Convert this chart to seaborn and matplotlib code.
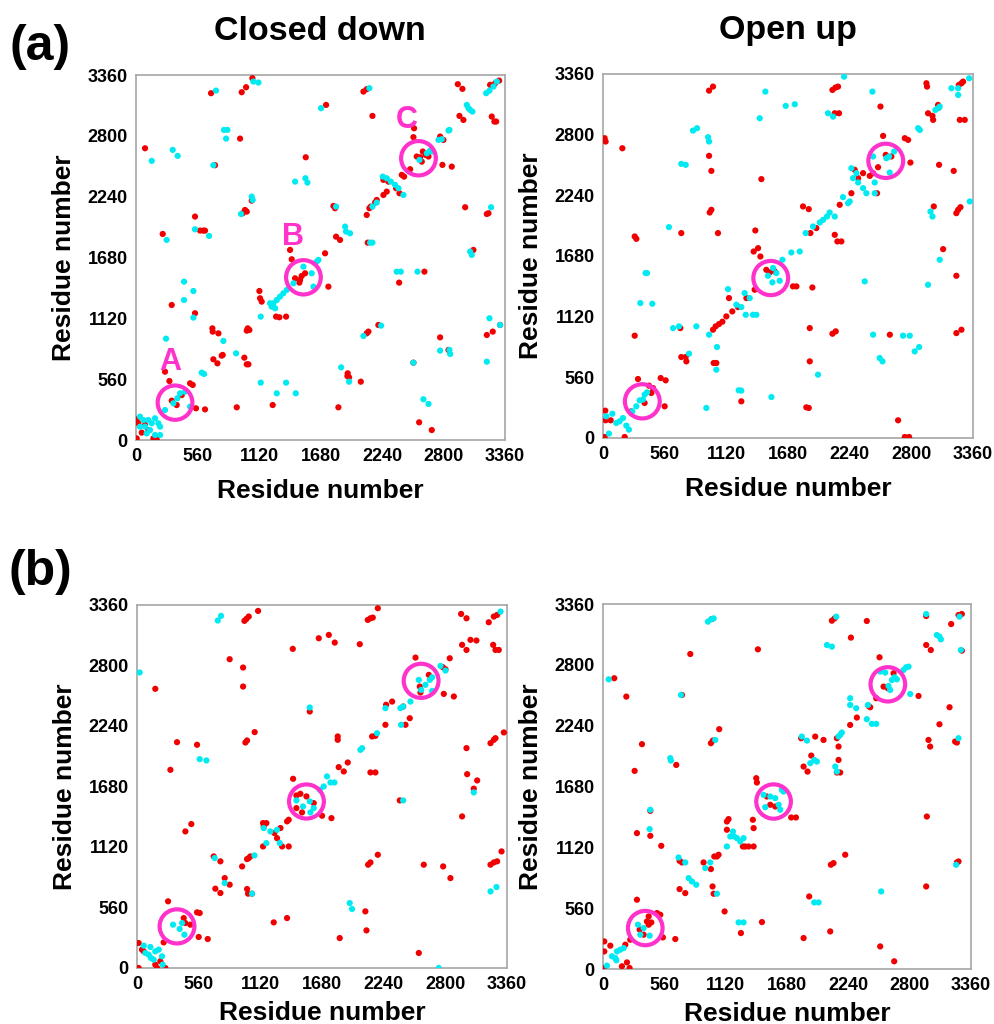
import matplotlib
matplotlib.use("Agg")
import matplotlib.pyplot as plt
from matplotlib.patches import Circle
import pandas as pd
import seaborn as sns

# residue-pair contacts (i, j)
TICKS = [0, 560, 1120, 1680, 2240, 2800, 3360]

# ---------------- (a) Closed down ----------------
a_closed_red = [
    (683, 3193), (962, 3202), (1002, 3248), (1059, 3331), (2070, 3208), (2100, 3230), (2152, 2984),
    (2929, 3276), (2971, 3233), (3238, 2978), (3262, 2932), (3278, 2932), (3223, 3270), (3269, 3285),
    (3305, 3309), (2944, 2984), (2980, 2947), (82, 2686), (947, 2775), (719, 2530), (1730, 3085),
    (1545, 2603), (2555, 2610), (2586, 2603), (2610, 2656), (2637, 2625), (2662, 2610), (2601, 2563),
    (2531, 2870), (2525, 2788), (2495, 2493), (2440, 2425), (2419, 2441), (2768, 2794), (2798, 2763),
    (2789, 2533), (2874, 2517), (2252, 2395), (2297, 2379), (2367, 2318), (2398, 2272), (2252, 2256),
    (2282, 2287), (2191, 2210), (2176, 2186), (2137, 2149), (2124, 2134), (2100, 2072), (1812, 2134),
    (1797, 2155), (1857, 1842), (1821, 1872), (2109, 1817), (1721, 1719), (1448, 1489), (1493, 1474),
    (1508, 1510), (1539, 1535), (1487, 1449), (1402, 1750), (1417, 1664), (1751, 1412), (1123, 1372),
    (1129, 1305), (1144, 1274), (1275, 1136), (1305, 1130), (1366, 1136), (1017, 1028), (1032, 1013),
    (1008, 1007), (1053, 2204), (992, 2118), (1008, 2103), (971, 2088), (537, 2057), (583, 1928),
    (613, 1928), (628, 1928), (243, 1897), (3071, 1750), (2996, 2143), (3208, 2088), (3193, 2081),
    (3314, 1059), (3193, 967), (3247, 998), (2768, 945), (2844, 829), (2525, 712), (2577, 163),
    (2692, 92), (2206, 1059), (2100, 982), (2115, 998), (1927, 614), (1924, 589), (1939, 577),
    (2046, 537), (1842, 301), (1244, 322), (917, 301), (986, 758), (1008, 697), (1023, 697),
    (704, 743), (741, 706), (780, 777), (789, 783), (695, 1028), (698, 998), (750, 982), (325, 1243),
    (537, 1167), (264, 629), (304, 543), (492, 522), (516, 507), (546, 292), (628, 282), (325, 362),
    (370, 322), (416, 414), (6, 190), (21, 154), (82, 138), (112, 92), (158, 15), (188, 6), (6, 15),
    (52, 68), (2395, 1449), (2625, 1550),
]
a_closed_cyan = [
    (728, 3217), (1068, 3300), (1114, 3291), (2124, 3239), (3187, 3193), (3217, 3217), (3253, 3254),
    (3284, 3300), (3011, 3085), (3041, 3039), (3062, 3024), (3026, 3055), (143, 2570), (334, 2671),
    (379, 2616), (801, 2855), (832, 2855), (820, 2775), (704, 2530), (1684, 3055), (1448, 2379),
    (1542, 2410), (1560, 2370), (2580, 2579), (2647, 2640), (2677, 2665), (2692, 2656), (2753, 2763),
    (2783, 2769), (2853, 2855), (2844, 2849), (2246, 2425), (2282, 2410), (2319, 2379), (2358, 2349),
    (2389, 2318), (2434, 2256), (2152, 2149), (2191, 2186), (1821, 2149), (1903, 1965), (1948, 1903),
    (1912, 1919), (2131, 1817), (2152, 1817), (1660, 1658), (1645, 1642), (1630, 1627), (1524, 1596),
    (1599, 1535), (1615, 1412), (1433, 1443), (1372, 1382), (1341, 1351), (1311, 1320), (1281, 1289),
    (1250, 1259), (1235, 1228), (1266, 1213), (1220, 1259), (1135, 1136), (1053, 2241), (1062, 2210),
    (956, 2081), (537, 1940), (665, 1879), (279, 1842), (2373, 1550), (2410, 1550), (2562, 1550),
    (3041, 1735), (3056, 1704), (3232, 2143), (3217, 1121), (3314, 1059), (3193, 721), (2768, 823),
    (2853, 829), (2859, 792), (2525, 712), (2616, 375), (2662, 332), (2231, 1053), (2070, 958),
    (1939, 537), (1867, 669), (1135, 528), (1281, 430), (1366, 528), (1454, 430), (911, 798),
    (795, 912), (437, 1458), (437, 1289), (522, 1372), (522, 1127), (273, 933), (619, 608), (598, 620),
    (340, 338), (376, 384), (401, 430), (446, 445), (264, 276), (492, 307), (36, 215), (67, 184),
    (112, 184), (143, 154), (173, 200), (203, 154), (219, 123), (127, 92), (173, 46), (97, 61),
    (36, 123), (82, 123), (219, 46),
]
a_closed_circles = [(355, 344), (1524, 1498), (2571, 2594)]
a_closed_letters = [("A", 310, 721), ("B", 1427, 1873), ("C", 2465, 2947)]

# ---------------- (a) Open up ----------------
a_open_red = [
    (15, 2767), (24, 2736), (176, 2674), (288, 1860), (303, 1838), (288, 944), (318, 544), (418, 483),
    (454, 461), (524, 553), (569, 532), (560, 292), (21, 252), (24, 163), (70, 163), (197, 9), (15, 9),
    (257, 246), (378, 323), (439, 415), (702, 1014), (711, 1891), (711, 747), (751, 747), (757, 707),
    (963, 3206), (999, 3243), (963, 2604), (984, 2465), (969, 2081), (984, 2106), (1044, 1891),
    (999, 999), (1023, 1030), (1053, 1051), (1084, 1073), (1005, 692), (1029, 692), (1120, 1122),
    (1174, 1168), (1226, 1208), (1144, 1291), (1256, 338), (1302, 1291), (1377, 1368), (1368, 1721),
    (1408, 1752), (1429, 1675), (1383, 1915), (1438, 2389), (1483, 1552), (1514, 1528), (1559, 1537),
    (1725, 1399), (1756, 1399), (1816, 2137), (1868, 2112), (1901, 1389), (1877, 1014), (1877, 707),
    (1846, 283), (1868, 277), (1883, 1891), (1937, 1937), (2104, 2997), (2143, 2997), (2083, 3212),
    (2110, 3234), (2134, 3243), (2104, 1875), (2128, 1814), (2164, 1814), (2149, 2152), (2083, 962),
    (2113, 984), (2255, 2259), (2285, 2475), (2316, 2398), (2361, 2444), (2422, 2419), (2452, 2444),
    (2488, 2259), (2519, 3059), (2543, 2788), (2604, 953), (2679, 163), (2740, 9), (2779, 9),
    (2567, 2613), (2618, 2598), (2497, 2499), (2740, 2767), (2770, 2751), (2791, 2542), (2936, 3274),
    (2942, 3243), (2951, 2997), (2991, 2973), (2997, 2936), (3042, 3074), (3048, 3049), (3051, 2521),
    (3003, 2137), (3088, 1743), (3208, 1497), (3184, 2465), (3208, 2075), (3224, 2106), (3245, 2130),
    (3208, 968), (3254, 999), (3239, 2936), (3284, 2936), (3230, 3258), (3254, 3274), (3269, 3289),
]
a_open_cyan = [
    (30, 200), (85, 224), (121, 138), (151, 154), (182, 184), (236, 77), (54, 40), (212, 114),
    (266, 246), (303, 292), (333, 347), (363, 354), (378, 400), (400, 421), (387, 1522), (400, 1522),
    (339, 1245), (448, 1239), (599, 1946), (636, 1014), (690, 1030), (781, 778), (817, 2837),
    (854, 2859), (711, 2530), (751, 2521), (848, 1030), (938, 277), (954, 2776), (963, 2736),
    (963, 953), (1035, 839), (1029, 630), (1135, 1374), (1211, 1230), (1256, 1208), (1296, 1137),
    (1286, 1337), (1332, 1291), (1362, 1137), (1392, 1137), (1232, 440), (1256, 437), (1423, 2951),
    (1474, 3197), (1529, 378), (2189, 3335), (1659, 3065), (1741, 3080), (1629, 1645), (1710, 1712),
    (1786, 1721), (1498, 1497), (1544, 1568), (1574, 1522), (1604, 1451), (1538, 1436), (1840, 1891),
    (1907, 1952), (1968, 1989), (1998, 2013), (2034, 2044), (2058, 2081), (2104, 2044), (2043, 2997),
    (2089, 2966), (2179, 2223), (2225, 2167), (2240, 2183), (1952, 584), (2255, 2490), (2301, 2444),
    (2270, 2398), (2316, 2358), (2361, 2306), (2391, 2259), (2467, 2259), (2467, 2358), (2452, 2598),
    (2446, 3197), (2376, 1445), (2452, 953), (2512, 738), (2537, 707), (2724, 944), (2785, 944),
    (2830, 799), (2870, 839), (2861, 2859), (2876, 2843), (2951, 1414), (2973, 2090), (2991, 2044),
    (3057, 1645), (3018, 3028), (3042, 3043), (3057, 3059), (2573, 2582), (2597, 2598), (2643, 2644),
    (2603, 2450), (3163, 3228), (3224, 3228), (3224, 3166), (3330, 2183), (3324, 3320),
]
a_open_circles = [(357, 338), (1523, 1476), (2567, 2558)]

# ---------------- (b) Closed down ----------------
b_closed_red = [
    (166, 2584), (363, 2090), (303, 1834), (439, 1264), (493, 1332), (545, 2066), (282, 617),
    (560, 287), (642, 268), (242, 237), (424, 462), (484, 401), (439, 416), (545, 515), (569, 509),
    (841, 2858), (963, 2781), (963, 2605), (975, 3213), (993, 3231), (1014, 3253), (1099, 3305),
    (1068, 2183), (984, 2087), (999, 2106), (696, 1033), (757, 987), (711, 734), (757, 694),
    (796, 832), (841, 771), (954, 940), (999, 1008), (1014, 1017), (1029, 1033), (999, 731),
    (1008, 688), (1044, 688), (1144, 1341), (1150, 1310), (1144, 1125), (1174, 1341), (1241, 422),
    (1362, 462), (1302, 1295), (1317, 1125), (1377, 1125), (1271, 1202), (1247, 1249), (1377, 1372),
    (1362, 1357), (1414, 2954), (1568, 2374), (1417, 1751), (1447, 1597), (1483, 1612), (1538, 1588),
    (1447, 1480), (1498, 1440), (1604, 1526), (1680, 1409), (1765, 1387), (1650, 3052), (1741, 3083),
    (1795, 3012), (1822, 2143), (1822, 2112), (1831, 1859), (1877, 1819), (1913, 1902), (2022, 2997),
    (2083, 348), (2073, 524), (1840, 277), (2119, 1810), (2164, 1810), (2098, 956), (2119, 977),
    (2186, 1048), (2095, 3222), (2119, 3237), (2140, 3243), (2186, 3330), (2134, 2143), (2164, 2149),
    (2261, 2436), (2316, 2466), (2255, 2251), (2476, 2312), (2437, 2251), (2416, 2420), (2385, 1551),
    (2528, 2873), (2567, 2605), (2573, 2550), (2649, 2713), (2785, 2537), (2876, 2513), (2839, 2867),
    (2776, 2784), (2800, 2765), (2603, 956), (2779, 940), (2845, 832), (2558, 139), (2942, 3277),
    (2991, 3237), (2951, 2991), (2991, 2944), (3027, 3037), (3081, 3031), (3193, 3200), (3239, 3253),
    (3269, 3268), (3233, 2991), (3254, 2944), (3284, 2944), (3209, 2081), (3239, 2112), (3254, 2127),
    (3330, 2180), (2991, 2035), (2997, 1794), (3088, 1736), (3057, 1660), (2951, 1403), (3209, 956),
    (3239, 977), (3269, 987), (3309, 1079), (15, 231), (45, 170), (61, 154), (182, 0), (257, 0),
    (15, 0), (212, 62), (166, 31),
]
b_closed_cyan = [
    (24, 2735), (733, 3216), (763, 3259), (3300, 3299), (569, 1933), (630, 1921), (705, 1017),
    (796, 786), (1044, 688), (1066, 1042), (1174, 1156), (1150, 1295), (1211, 1264), (1271, 1279),
    (1296, 1156), (1568, 2411), (1447, 1551), (1507, 1495), (1568, 1542), (1604, 1480), (1574, 1440),
    (1725, 1773), (1756, 1717), (1792, 1717), (1659, 1649), (1695, 1680), (2028, 2019), (2043, 2035),
    (2179, 2173), (2255, 2405), (2391, 2405), (2416, 2420), (2397, 2251), (2482, 2466), (2416, 1551),
    (2558, 2667), (2618, 2621), (2658, 2667), (2679, 2691), (2579, 2574), (2679, 2565), (2755, 2796),
    (2800, 2753), (3057, 1625), (1931, 601), (1952, 546), (3209, 709), (3263, 749), (327, 401),
    (387, 361), (409, 416), (430, 308), (61, 207), (121, 194), (166, 154), (197, 170), (106, 123),
    (127, 92), (151, 77), (227, 108), (233, 31), (76, 139), (2739, 0),
]
b_closed_circles = [(363, 385), (1538, 1541), (2579, 2658)]

# ---------------- (b) Open up ----------------
b_open_red = [
    (103, 2677), (213, 2508), (289, 1824), (356, 2070), (310, 1251), (432, 1456), (432, 1226),
    (532, 1134), (669, 1879), (310, 638), (417, 484), (441, 429), (493, 515), (523, 500), (547, 291),
    (660, 276), (335, 362), (371, 316), (401, 438), (417, 408), (12, 254), (67, 215), (12, 162),
    (173, 25), (219, 61), (243, 9), (12, 9), (204, 224), (249, 270), (699, 736), (751, 699),
    (699, 996), (721, 981), (797, 2900), (721, 2523), (918, 981), (985, 920), (1016, 1036),
    (1040, 1036), (1055, 1052), (1000, 760), (1010, 693), (1110, 530), (985, 2079), (1003, 2103),
    (1061, 2208), (994, 3222), (1259, 331), (1451, 432), (1131, 1358), (1131, 1282), (1146, 1380),
    (1277, 1128), (1298, 1128), (1329, 1128), (1375, 1128), (1368, 1374), (1375, 1297), (1414, 2943),
    (1399, 1757), (1405, 1717), (1496, 1588), (1527, 1512), (1572, 1496), (1718, 1395), (1761, 1395),
    (1809, 2125), (1937, 2140), (2013, 2109), (1901, 1965), (1831, 1864), (1867, 1818), (1882, 668),
    (1831, 285), (2074, 346), (2080, 960), (2104, 975), (2211, 1052), (2089, 3207), (2114, 3228),
    (2263, 3051), (2135, 2125), (2150, 2048), (2150, 1925), (2165, 1809), (2135, 1809), (2256, 2247),
    (2317, 2315), (2424, 2422), (2439, 2410), (2408, 3204), (2524, 2870), (2530, 208), (2658, 71),
    (2494, 2493), (2561, 2600), (2600, 2585), (2652, 2723), (2880, 2514), (2950, 3250), (2950, 2983),
    (2992, 2937), (2971, 2109), (2986, 2048), (2956, 1404), (2950, 760), (3071, 2253), (3163, 2410),
    (3178, 3176), (3214, 2094), (3230, 2085), (3230, 981), (3245, 990), (3245, 3259), (3275, 3268),
    (3275, 2931),
]
b_open_cyan = [
    (52, 2667), (614, 1941), (620, 1919), (712, 2523), (690, 1027), (751, 981), (782, 837),
    (812, 806), (851, 776), (934, 929), (979, 981), (1040, 693), (958, 3198), (985, 3219),
    (1010, 3228), (1025, 2109), (426, 1288), (1131, 1128), (1162, 1220), (1198, 1220), (1222, 1205),
    (1186, 1266), (1253, 1174), (1283, 1205), (1238, 429), (1283, 429), (1466, 1603), (1527, 1588),
    (1572, 1573), (1603, 1512), (1481, 1490), (1618, 1466), (1648, 1634), (1633, 1650), (1815, 2140),
    (1861, 2103), (1892, 1895), (1928, 1925), (1952, 1910), (1928, 613), (1968, 613), (2044, 2983),
    (2089, 2968), (2129, 3244), (2120, 1864), (2135, 1818), (2150, 2140), (2165, 2155), (2180, 2177),
    (2256, 2493), (2256, 2431), (2311, 2401), (2408, 2300), (2454, 2257), (2494, 2257), (2418, 2431),
    (2539, 714), (2530, 2738), (2576, 2729), (2606, 2606), (2637, 2661), (2661, 2686), (2682, 2667),
    (2621, 2569), (2743, 2753), (2767, 2778), (2789, 2784), (2804, 2532), (2950, 3268), (3047, 3075),
    (3071, 3060), (3084, 3035), (3254, 3244), (3245, 2125), (3223, 960), (3266, 2937), (36, 31),
    (82, 117), (113, 101), (128, 162), (158, 178), (189, 193), (122, 80), (319, 408), (341, 316),
    (371, 377), (426, 307), (432, 1466),
]
b_open_circles = [(386, 377), (1557, 1542), (2600, 2621)]

PALETTE = {"red": "#f00000", "cyan": "#00eaf2"}
MAGENTA = "#ff33cc"


def contact_frame(red, cyan):
    df_red = pd.DataFrame(red, columns=["res_i", "res_j"]).assign(kind="red")
    df_cyan = pd.DataFrame(cyan, columns=["res_i", "res_j"]).assign(kind="cyan")
    return pd.concat([df_red, df_cyan], ignore_index=True)


def draw_map(ax, df, circles, letters=(), xlabel_y=-0.095):
    sns.scatterplot(data=df, x="res_i", y="res_j", hue="kind", palette=PALETTE,
                    s=20, linewidth=0, legend=False, ax=ax, zorder=3)
    for cx, cy in circles:
        ax.add_patch(Circle((cx, cy), 158, fill=False, edgecolor=MAGENTA, lw=3, zorder=4))
    for txt, lx, ly in letters:
        ax.text(lx, ly, txt, color=MAGENTA, fontsize=22, fontweight="bold",
                ha="center", va="center", zorder=5)
    ax.set_xlim(0, 3360)
    ax.set_ylim(0, 3360)
    ax.set_xticks(TICKS)
    ax.set_yticks(TICKS)
    ax.tick_params(direction="out", length=4, width=1, color="#999999",
                   labelcolor="black", labelsize=13, pad=2)
    for lab in ax.get_xticklabels() + ax.get_yticklabels():
        lab.set_fontweight("bold")
    for sp in ax.spines.values():
        sp.set_color("#a6a6a6")
        sp.set_linewidth(1.2)
    ax.set_xlabel("Residue number", fontsize=19, fontweight="bold", color="black")
    ax.set_ylabel("Residue number", fontsize=19, fontweight="bold", color="black")
    ax.xaxis.set_label_coords(0.5, xlabel_y)
    ax.yaxis.set_label_coords(-0.162, 0.5)


sns.set_style("white")
plt.rcParams["font.family"] = ["Liberation Sans", "DejaVu Sans"]
plt.rcParams["text.color"] = "black"

fig = plt.figure(figsize=(9.95, 10.24), dpi=100)

panels = [
    ([0.1367, 0.5703, 0.371, 0.3564], a_closed_red, a_closed_cyan, a_closed_circles, a_closed_letters, -0.106),
    ([0.606, 0.5723, 0.372, 0.3555], a_open_red, a_open_cyan, a_open_circles, (), -0.106),
    ([0.1377, 0.0547, 0.372, 0.3545], b_closed_red, b_closed_cyan, b_closed_circles, (), -0.09),
    ([0.606, 0.0537, 0.370, 0.3564], b_open_red, b_open_cyan, b_open_circles, (), -0.09),
]
for pos, red, cyan, circles, letters, xly in panels:
    ax = fig.add_axes(pos)
    draw_map(ax, contact_frame(red, cyan), circles, letters, xly)

fig.text(320 / 995, 1 - 31 / 1024, "Closed down", fontsize=24.5, fontweight="bold",
         ha="center", va="center")
fig.text(788 / 995, 1 - 31 / 1024, "Open up", fontsize=24.5, fontweight="bold",
         ha="center", va="center")
fig.text(40 / 995, 1 - 47 / 1024, "(a)", fontsize=36, fontweight="bold", ha="center", va="center")
fig.text(40 / 995, 1 - 572 / 1024, "(b)", fontsize=36, fontweight="bold", ha="center", va="center")

fig.savefig("out.png", dpi=100)
